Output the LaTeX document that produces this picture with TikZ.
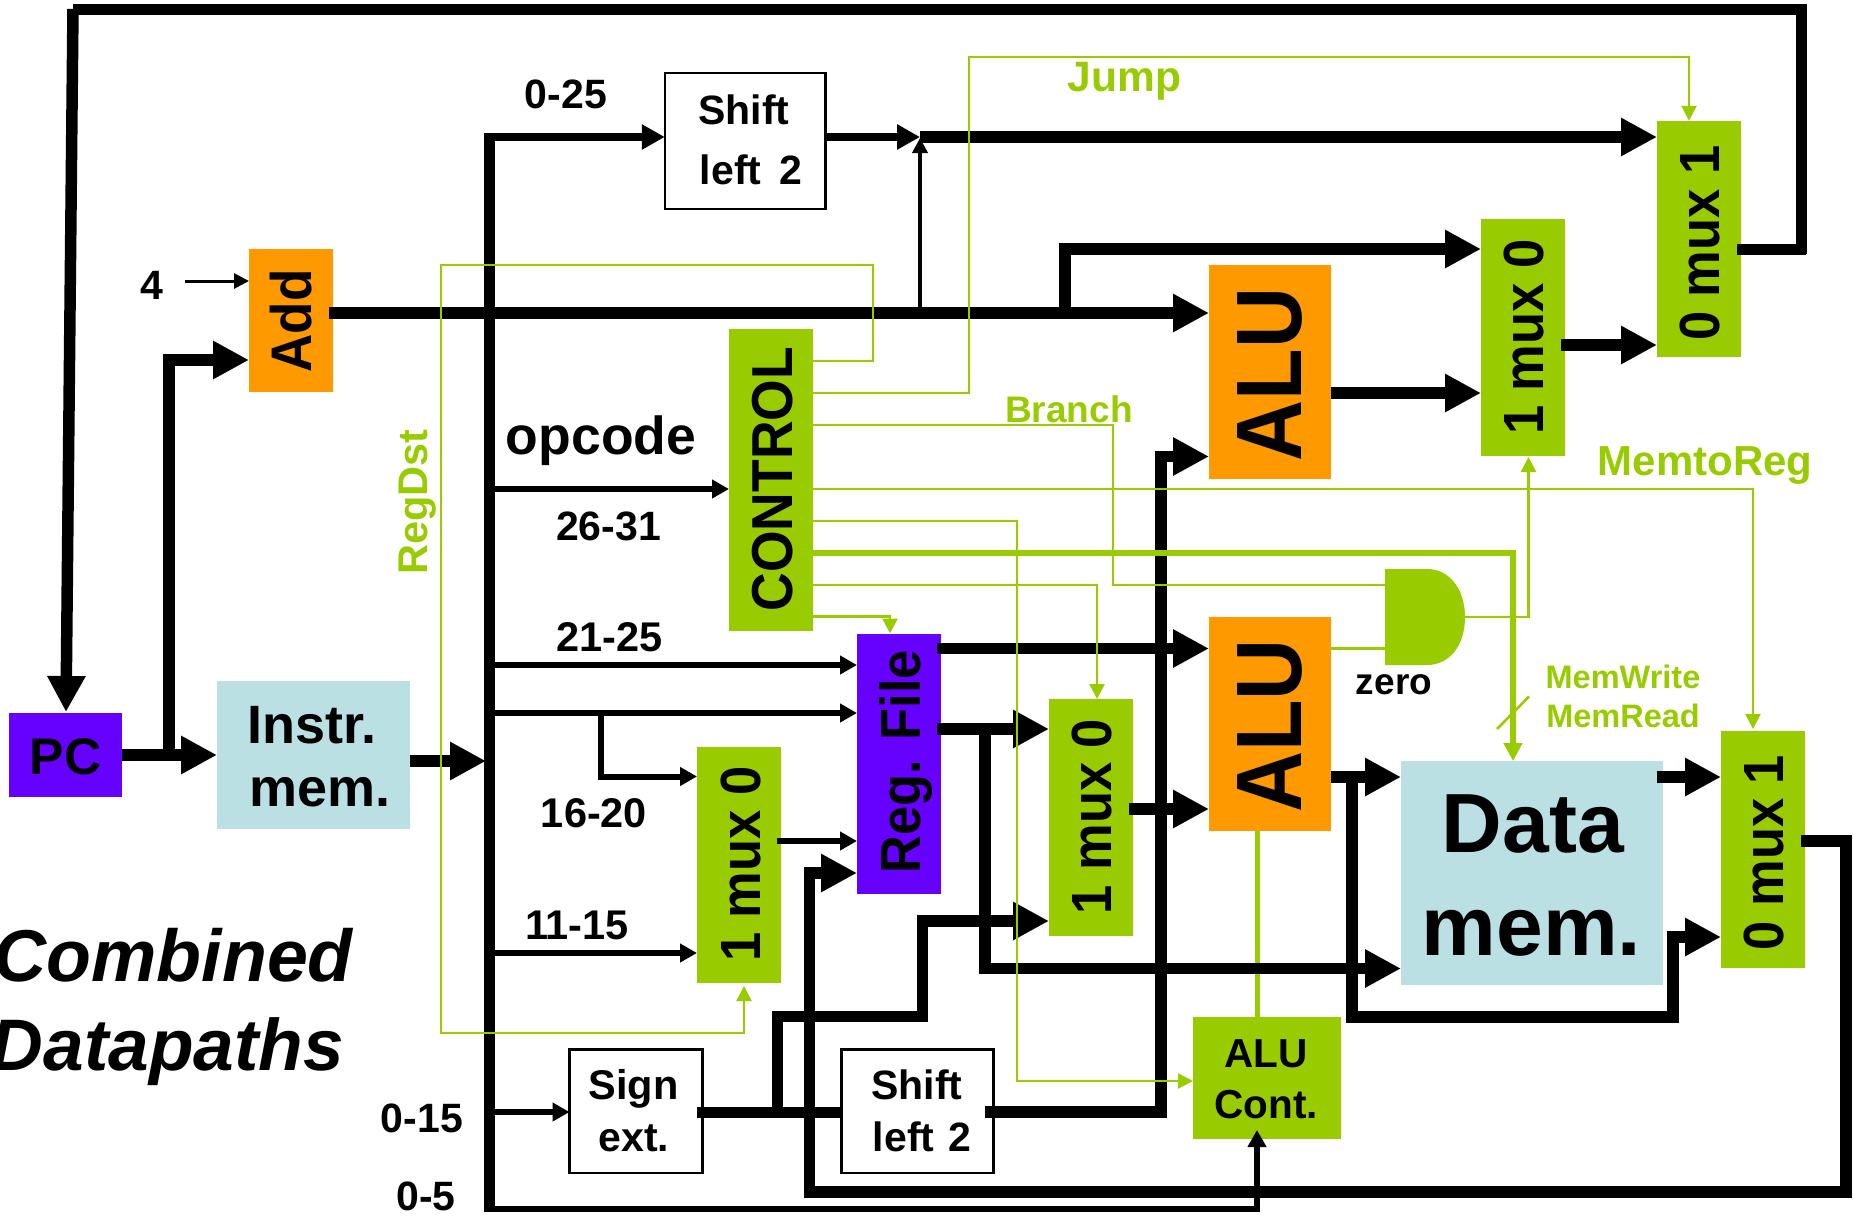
\documentclass[tikz,border=0pt]{standalone}
\usepackage{fontspec}
\setmainfont{Liberation Sans}
\usetikzlibrary{arrows.meta}
\definecolor{mgreen}{HTML}{99CC00}
\definecolor{morange}{HTML}{FF9900}
\definecolor{mpurple}{HTML}{6600FF}
\definecolor{mblue}{HTML}{BAE0E3}
\tikzset{
  block/.style={inner sep=0pt,outer sep=0pt},
  gbox/.style={block,fill=mgreen},
  obox/.style={block,fill=morange},
  pbox/.style={block,fill=mpurple},
  bbox/.style={block,fill=mblue},
  wbox/.style={block,fill=white,draw=black,line width=2.5pt},
  txt/.style={anchor=base,inner sep=0pt,font=\bfseries\fontsize{#1}{#1}\selectfont},
  vtxt/.style={txt=#1,rotate=90,yscale=1.08,transform shape},
  gtxt/.style={txt=#1,text=mgreen},
  bus/.style={line width=11pt,draw=black},
  thickarr/.style={line width=11.5pt,-{Triangle[length=36pt,width=36pt]}},
  medarr/.style={line width=8pt,-{Triangle[length=23pt,width=24pt]}},
  thinarr/.style={line width=6pt,-{Triangle[length=17pt,width=18pt]}},
  hairarr/.style={line width=3pt,-{Triangle[length=15pt,width=15pt]}},
  gline/.style={draw=mgreen,line width=2.6pt},
  garr/.style={gline,-{Triangle[length=15pt,width=15pt]}},
  gthick/.style={draw=mgreen,line width=6pt,-{Triangle[length=18pt,width=18pt]}},
}
\begin{document}
\begin{tikzpicture}[x=1pt,y=-1pt,line join=miter]
\useasboundingbox (0,0) rectangle (1853,1218);
% blocks
\node[pbox,minimum width=113pt,minimum height=84pt] (pc) at (65.5,755) {};
\node[bbox,minimum width=193pt,minimum height=148pt] (instr) at (313.5,755) {};
\node[obox,minimum width=84pt,minimum height=143pt] (add) at (291,320.5) {};
\node[wbox,minimum width=160.5pt,minimum height=136pt] (sftA) at (745,141) {};
\node[gbox,minimum width=84pt,minimum height=302.5pt] (ctrl) at (771,480) {};
\node[pbox,minimum width=84pt,minimum height=260pt] (regf) at (899,763.5) {};
\node[gbox,minimum width=84pt,minimum height=236.5pt] (muxA) at (739,865) {};
\node[gbox,minimum width=84pt,minimum height=237pt] (muxB) at (1091,817.5) {};
\node[gbox,minimum width=84pt,minimum height=237pt] (muxC) at (1523,337.5) {};
\node[gbox,minimum width=84pt,minimum height=236.5pt] (muxD) at (1699,239) {};
\node[gbox,minimum width=84pt,minimum height=237pt] (muxE) at (1763,849.5) {};
\node[obox,minimum width=122pt,minimum height=214pt] (aluA) at (1270,372) {};
\node[obox,minimum width=122pt,minimum height=214pt] (aluB) at (1270,724) {};
\node[bbox,minimum width=262pt,minimum height=224pt] (data) at (1532,873) {};
\node[gbox,minimum width=148pt,minimum height=122pt] (cont) at (1267,1078) {};
\node[wbox,minimum width=133pt,minimum height=123.5pt] (sext) at (636,1111) {};
\node[wbox,minimum width=152pt,minimum height=123.5pt] (sftB) at (917.5,1111) {};
\node[block,minimum width=80pt,minimum height=96pt] (andg) at (1425,617) {};
\fill[mgreen] (andg.north west) -- (1427,569) .. controls (1450,569) and (1465,590) .. (andg.east) .. controls (1465,645) and (1450,665) .. (1427,665) -- (andg.south west) -- cycle;
% block labels
\node[txt=51.5] (tpc) at (65.5,774) {PC};
\node[txt=54] (tinstrA) at (312,743) {Instr.};
\node[txt=54] (tinstrB) at (320,806) {mem.};
\node[vtxt=53] (tadd) at (311,321) {Add};
\node[txt=41] (tsftAa) at (744,124) {Shift};
\node[txt=41] (tsftAb) at (751,184) {left\hspace{18pt}2};
\node[vtxt=53.5] (tctrl) at (792,479) {CONTROL};
\node[vtxt=52.5] (tregf) at (920,762) {Reg. File};
\node[vtxt=52.5] (tmuxA) at (760,864) {1 mux 0};
\node[vtxt=52.5] (tmuxB) at (1111,816.5) {1 mux 0};
\node[vtxt=52.5] (tmuxC) at (1543,337) {1 mux 0};
\node[vtxt=52.5] (tmuxD) at (1719,243) {0 mux 1};
\node[vtxt=52.5] (tmuxE) at (1783,852.5) {0 mux 1};
\node[txt=84.5,rotate=90,yscale=1.1,transform shape] (taluA) at (1301,374.5) {ALU};
\node[txt=84.5,rotate=90,yscale=1.1,transform shape] (taluB) at (1301,726) {ALU};
\node[txt=84] (tdataA) at (1533,852) {Data};
\node[txt=84] (tdataB) at (1531.5,955) {mem.};
\node[txt=40.5] (tcontA) at (1266,1067) {ALU};
\node[txt=40.5] (tcontB) at (1266,1118.5) {Cont.};
\node[txt=41.5] (tsextA) at (633.5,1099.5) {Sign};
\node[txt=41] (tsextB) at (634,1151) {ext.};
\node[txt=41] (tsftBa) at (917,1099.5) {Shift};
\node[txt=41] (tsftBb) at (922,1151) {left\hspace{14pt}2};
% other labels
\node[txt=41] (l025) at (566,108) {0-25};
\node[txt=41] (l4) at (152,299.5) {4};
\node[txt=53.5] (lop) at (601,454) {opcode};
\node[txt=41] (l2631) at (608.5,540) {26-31};
\node[txt=41.5] (l2125) at (609.5,651.5) {21-25};
\node[txt=41.5] (l1620) at (594,827.5) {16-20};
\node[txt=41.5] (l1115) at (577,939.5) {11-15};
\node[txt=41] (l015) at (422,1132) {0-15};
\node[txt=41] (l05) at (426,1210.5) {0-5};
\node[txt=37] (lzero) at (1394,694) {zero};
\node[txt=72,font=\bfseries\itshape\fontsize{73.5}{73.5}\selectfont,anchor=base east] (lcomb) at (353,981) {Combined};
\node[txt=72,font=\bfseries\itshape\fontsize{73}{73}\selectfont,anchor=base east] (ldata) at (344,1070) {Datapaths};
\node[gtxt=42.5] (ljump) at (1124.5,91) {Jump};
\node[gtxt=37] (lbranch) at (1069,422.5) {Branch};
\node[gtxt=42] (lmemreg) at (1705,475) {MemtoReg};
\node[gtxt=32.5] (lmw) at (1623,688) {MemWrite};
\node[gtxt=32.5] (lmr) at (1623,727.5) {MemRead};
\node[gtxt=41.5,rotate=90] (lregdst) at (427,502) {RegDst};
% junction points
\coordinate (busT) at (489,137);
\coordinate (busB) at (489,1209);
\coordinate (jmpIn) at (920,137);
\coordinate (contIn) at (1257,1130);
% green link under black
\draw[draw=mgreen,line width=5pt] (aluB.south -| contIn) -- (cont.north -| contIn);
% black connectors
\draw[bus] (489,133) -- (489,1212);
\draw[bus] (73,9) -- (1806,9);
\draw[bus] (1801,4) -- (1801,254);
\draw[bus] (1737,249) -- (1806,249);
\draw[thickarr] (73,9) -- (66,712) coordinate (pcIn);
\draw[thickarr] (pc.east) -- (instr.west);
\draw[thickarr] (instr.east |- 0,761) -- (486,761);
\draw[thickarr] (169,755) -- (169,360) -- (add.west |- 0,360);
\draw[hairarr] (185,281) -- (add.west |- 0,281);
\draw[thickarr] (329,313) -- (aluA.west |- 0,313);
\draw[thickarr] (1065,313) -- (1065,249) -- (muxC.west |- 0,249);
\draw[thickarr] (aluA.east |- 0,393) -- (muxC.west |- 0,393);
\draw[thickarr] (1561,345) -- (muxD.west |- 0,345);
\draw[thickarr] (jmpIn) -- (muxD.west |- jmpIn);
\draw[medarr] (busT) -- (sftA.west |- busT);
\draw[medarr] (sftA.east |- busT) -- (jmpIn);
\draw[line width=3.5pt,-{Triangle[length=15pt,width=15pt]}] (920,313) -- (920,138);
\draw[thinarr] (489,489) -- (ctrl.west |- 0,489);
\draw[thinarr] (489,665) -- (regf.west |- 0,665);
\draw[thinarr] (489,713) -- (regf.west |- 0,713);
\draw[thinarr] (601,713) -- (601,776.5) -- (muxA.west |- 0,776.5);
\draw[thinarr] (489,953) -- (muxA.west |- 0,953);
\draw[thinarr] (489,1112) -- (sext.west |- 0,1112);
\draw[thinarr] (777,841) -- (regf.west |- 0,841);
\draw[thinarr] (busB) -- (1257,1209) -- (contIn);
\draw[thickarr] (1801,841) -- (1846,841) -- (1846,1192) -- (809.5,1192) -- (809.5,873) -- (regf.west |- 0,873);
\draw[bus] (697,1112) -- (sftB.west |- 0,1112);
\draw[bus] (777,1112) -- (777,1016) -- (922,1016) -- (922,921);
\draw[thickarr] (916.5,921) -- (muxB.west |- 0,921);
\draw[thickarr] (937,648.5) -- (aluB.west |- 0,648.5);
\draw[thickarr] (937,729) -- (muxB.west |- 0,729);
\draw[thickarr] (985,729) -- (985,968.5) -- (data.west |- 0,968.5);
\draw[thickarr] (muxB.east |- 0,809) ++(-4,0) -- (aluB.west |- 0,809);
\draw[thickarr] (985,1112) -- (1161,1112) -- (1161,456.5) -- (aluA.west |- 0,456.5);
\draw[thickarr] (aluB.east |- 0,777) -- (data.west |- 0,777);
\draw[thickarr] (1352,777) -- (1352,1017) -- (1673,1017) -- (1673,937) -- (muxE.west |- 0,937);
\draw[thickarr] (1657,777) -- (muxE.west |- 0,777);
% green control lines
\draw[garr] (ctrl.east |- 0,361) -- (873,361) -- (873,265) -- (441,265) -- (441,1033) -- (744,1033) -- (744,986);
\draw[garr] (ctrl.east |- 0,393) -- (969,393) -- (969,57) -- (1689,57) -- (muxD.north -| 1689,0);
\draw[gline] (ctrl.east |- 0,425) -- (1113,425) -- (1113,585) -- (andg.west |- 0,585);
\draw[garr] (ctrl.east |- 0,489) -- (1753,489) -- (1753,729);
\draw[garr] (ctrl.east |- 0,521) -- (1017,521) -- (1017,1081) -- (cont.west |- 0,1081);
\draw[gthick] (ctrl.east |- 0,553) -- (1513,553) -- (data.north -| 1513,0);
\draw[garr] (ctrl.east |- 0,585) -- (1097,585) -- (muxB.north -| 1097,0);
\draw[garr] (ctrl.east |- 0,616.5) -- (890,616.5) -- (regf.north -| 890,0);
\draw[gline] (aluB.east |- 0,648.5) -- (andg.west |- 0,648.5);
\draw[garr] (andg.east) -- (1528.5,617) -- (1528.5,457);
\draw[gline] (1497,729) -- (1529,696.5);
\end{tikzpicture}
\end{document}
